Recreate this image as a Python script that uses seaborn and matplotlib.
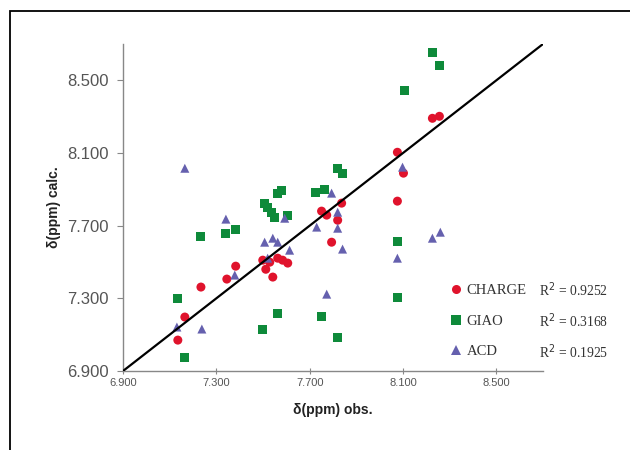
import matplotlib
matplotlib.use("Agg")
import matplotlib.pyplot as plt
from matplotlib.lines import Line2D
from matplotlib.patches import Rectangle
import seaborn as sns
import pandas as pd

# ---- data ----
charge_obs = [7.135, 7.165, 7.234, 7.345, 7.383, 7.499, 7.512, 7.529, 7.542, 7.563,
              7.584, 7.606, 7.751, 7.773, 7.837, 7.820, 7.794, 8.076, 8.102, 8.076,
              8.226, 8.256]
charge_calc = [7.070, 7.197, 7.362, 7.406, 7.477, 7.510, 7.460, 7.499, 7.417, 7.521,
               7.510, 7.494, 7.780, 7.758, 7.824, 7.730, 7.609, 7.835, 7.989, 8.104,
               8.291, 8.302]

giao_obs = [7.165, 7.135, 7.234, 7.341, 7.383, 7.507, 7.520, 7.537, 7.550, 7.563,
            7.580, 7.606, 7.499, 7.563, 7.725, 7.765, 7.820, 7.841, 7.751, 7.820,
            8.076, 8.076, 8.106, 8.226, 8.256]
giao_calc = [6.977, 7.301, 7.642, 7.659, 7.681, 7.824, 7.802, 7.774, 7.747, 7.879,
             7.895, 7.758, 7.131, 7.219, 7.884, 7.901, 8.016, 7.989, 7.202, 7.087,
             7.615, 7.307, 8.445, 8.654, 8.582]

acd_obs = [7.165, 7.131, 7.238, 7.341, 7.379, 7.507, 7.542, 7.563, 7.614, 7.593,
           7.520, 7.730, 7.794, 7.820, 7.820, 7.841, 7.773, 8.076, 8.226, 8.260,
           8.098]
acd_calc = [8.016, 7.142, 7.131, 7.736, 7.428, 7.609, 7.631, 7.609, 7.565, 7.741,
            7.521, 7.692, 7.879, 7.686, 7.774, 7.571, 7.323, 7.521, 7.631, 7.664,
            8.022]

series_names = ["CHARGE", "GIAO", "ACD"]
r2_labels = ["R$^2$ = 0.9252", "R$^2$ = 0.3168", "R$^2$ = 0.1925"]
ticks = [6.9, 7.3, 7.7, 8.1, 8.5]
tick_labels = ["6.900", "7.300", "7.700", "8.100", "8.500"]

colors = {"CHARGE": "#e0132c", "GIAO": "#0e8a3a", "ACD": "#6560ae"}
markers = {"CHARGE": "o", "GIAO": "s", "ACD": "^"}

df = pd.concat([
    pd.DataFrame({"obs": charge_obs, "calc": charge_calc, "method": "CHARGE"}),
    pd.DataFrame({"obs": giao_obs, "calc": giao_calc, "method": "GIAO"}),
    pd.DataFrame({"obs": acd_obs, "calc": acd_calc, "method": "ACD"}),
], ignore_index=True)

sns.set_theme(style="white")
plt.rcParams["font.family"] = ["Liberation Sans", "DejaVu Sans"]

fig = plt.figure(figsize=(6.3, 4.5), dpi=100)
ax = fig.add_axes([123 / 630, 1 - 371 / 450, (543 - 123) / 630, (371 - 44) / 450])

sns.scatterplot(data=df, x="obs", y="calc", hue="method", style="method",
                palette=colors, markers=markers, s=42, linewidth=0,
                legend=False, ax=ax, zorder=3)

# 1:1 line
ax.plot([6.9, 8.7], [6.9, 8.7], color="black", lw=1.6, zorder=4, solid_capstyle="round")

ax.set_xlim(6.9, 8.7)
ax.set_ylim(6.9, 8.7)
ax.set_xticks(ticks)
ax.set_xticklabels(tick_labels, fontsize=8, color="#555555")
ax.set_yticks(ticks)
ax.set_yticklabels(tick_labels, fontsize=12, color="#555555")
ax.tick_params(axis="x", direction="inout", length=4, width=0.8, color="#888888", pad=3)
ax.tick_params(axis="y", direction="out", length=4, width=0.8, color="#888888", pad=6)
ax.tick_params(left=True, bottom=True)

for side in ["top", "right"]:
    ax.spines[side].set_visible(False)
for side in ["left", "bottom"]:
    ax.spines[side].set_color("#888888")
    ax.spines[side].set_linewidth(1.0)

ax.set_xlabel("δ(ppm) obs.", fontsize=10, fontweight="bold", color="#222222", labelpad=11)
ax.set_ylabel("δ(ppm) calc.", fontsize=10, fontweight="bold", color="#222222", labelpad=5)

handles = [Line2D([], [], linestyle="none", marker=markers[n], color=colors[n],
                  markersize=6.5, markeredgewidth=0) for n in series_names]
leg = fig.legend(handles, series_names, loc="center left",
                 bbox_to_anchor=(438 / 630, 1 - 321 / 450), bbox_transform=fig.transFigure,
                 frameon=False, handlelength=0.6, handletextpad=0.45, labelspacing=1.2,
                 prop={"family": "Liberation Serif", "size": 10.5})
for t in leg.get_texts():
    t.set_color("#333333")

for i, lab in enumerate(r2_labels):
    fig.text(539 / 630, 1 - (290 + 31 * i) / 450, lab, fontsize=9.8,
             family="Liberation Serif", color="#333333", va="center", ha="left")

# outer frame of the figure
fig.add_artist(Rectangle((10 / 630, -0.2), 1.2, (1 - 11 / 450) + 0.2,
                         transform=fig.transFigure, fill=False,
                         edgecolor="black", lw=1.3))

fig.savefig("out.png", dpi=100)
